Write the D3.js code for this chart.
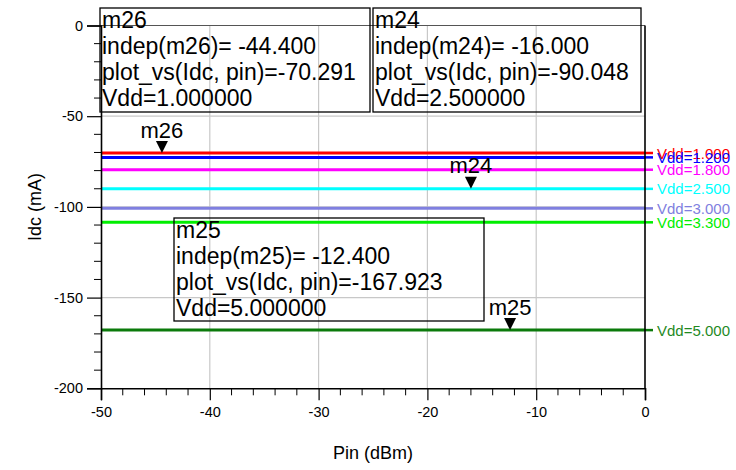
<!DOCTYPE html>
<html>
<head>
<meta charset="utf-8">
<script src="https://cdn.jsdelivr.net/npm/d3@7"></script>
<style>
  html, body { margin: 0; padding: 0; background: #fff; }
  svg { display: block; font-family: "Liberation Sans", Arial, sans-serif; }
</style>
</head>
<body>
<svg id="chart" width="736" height="470"></svg>
<script>
// Supply voltage sweep and the DC drain current of each trace (flat over Pin)
const vdd = [1.0, 1.2, 1.8, 2.5, 3.0, 3.3, 5.0];
const idc = [-70.291, -72.7, -79.5, -90.048, -100.8, -108.5, -167.923];
const traceColors = ["#ff0000", "#0000ff", "#ff00ff", "#00ffff", "#7f7fe0", "#00ee00", "#0b7a0b"];
const labelColors = ["#ff0000", "#0000ff", "#ff00ff", "#00ffff", "#7f7fe0", "#00ee00", "#1f8a1f"];

// Input power sweep
const pinSweep = [-50, 0];

// Axis ticks
const xTicks = [-50, -40, -30, -20, -10, 0];
const yTicks = [0, -50, -100, -150, -200];

// Markers
const markerNames = ["m26", "m24", "m25"];
const markerPin = [-44.4, -16.0, -12.4];
const markerIdc = [-70.291, -90.048, -167.923];
const markerVdd = [1.0, 2.5, 5.0];
const markerBoxes = [[100, 8, 270, 104], [373, 8, 268, 104], [174, 218, 310, 103]];

const svg = d3.select("#chart");
const margin = { left: 101, right: 91, top: 25.5, bottom: 81.7 };
const W = 736, H = 470;

const x = d3.scaleLinear().domain([-50, 0]).range([margin.left, W - margin.right]);
const y = d3.scaleLinear().domain([-200, 0]).range([H - margin.bottom, margin.top]);

// Grid
const grid = svg.append("g").attr("stroke", "#c8c8c8").attr("stroke-width", 1.2);
xTicks.filter(d => d > -50 && d < 0).forEach(d => {
  grid.append("line").attr("x1", x(d)).attr("x2", x(d))
    .attr("y1", y(0)).attr("y2", y(-200));
});
yTicks.filter(d => d > -200).forEach(d => {
  grid.append("line").attr("x1", x(-50)).attr("x2", x(0))
    .attr("y1", y(d)).attr("y2", y(d))
    .attr("stroke", d === 0 ? "#555" : "#c8c8c8");
});

// Traces
const line = d3.line().x(d => x(d[0])).y(d => y(d[1]));
vdd.forEach((v, i) => {
  const pts = pinSweep.map(p => [p, idc[i]]);
  svg.append("path").attr("d", line(pts)).attr("fill", "none")
    .attr("stroke", traceColors[i]).attr("stroke-width", 3);
});

// Trace labels at the right edge
vdd.forEach((v, i) => {
  svg.append("line").attr("x1", x(0)).attr("x2", x(0) + 8)
    .attr("y1", y(idc[i])).attr("y2", y(idc[i]))
    .attr("stroke", traceColors[i]).attr("stroke-width", 2.5);
  svg.append("text").attr("x", x(0) + 12).attr("y", y(idc[i]) + 5.5)
    .attr("font-size", 15).attr("fill", labelColors[i])
    .text("Vdd=" + v.toFixed(3));
});

// Axes
const xAxis = d3.axisBottom(x).tickValues(xTicks).tickSize(12).tickPadding(6);
const gx = svg.append("g").attr("transform", `translate(0,${y(-200)})`).call(xAxis);
const xMinor = d3.range(-48, 0, 2).filter(d => d % 10 !== 0);
gx.selectAll(".minor").data(xMinor).enter().append("line")
  .attr("x1", d => x(d)).attr("x2", d => x(d)).attr("y1", 0).attr("y2", 7)
  .attr("stroke", "#000");

const yAxis = d3.axisLeft(y).tickValues(yTicks).tickSize(14).tickPadding(4);
const gy = svg.append("g").attr("transform", `translate(${x(-50)},0)`).call(yAxis);
const yMinor = d3.range(-190, 0, 10).filter(d => d % 50 !== 0);
gy.selectAll(".minor").data(yMinor).enter().append("line")
  .attr("x1", -7).attr("x2", 0).attr("y1", d => y(d)).attr("y2", d => y(d))
  .attr("stroke", "#000");

[gx, gy].forEach(g => {
  g.select(".domain").attr("stroke", "#000").attr("stroke-width", 1.6);
  g.selectAll(".tick line").attr("stroke", "#000").attr("stroke-width", 1.2);
  g.selectAll(".tick text").attr("font-size", 14.5).attr("fill", "#000")
    .attr("font-family", "Liberation Sans, Arial, sans-serif");
});
gx.selectAll(".tick text").text(d => d === 0 ? "0" : d3.format("d")(d).replace("−", "-"));
gy.selectAll(".tick text").text(d => d === 0 ? "0" : d3.format("d")(d).replace("−", "-"));

// Right border of the plot frame
svg.append("line").attr("x1", x(0)).attr("x2", x(0))
  .attr("y1", y(0)).attr("y2", y(-200)).attr("stroke", "#000").attr("stroke-width", 1.6);

// Axis titles
svg.append("text").attr("x", (x(-50) + x(0)) / 2).attr("y", 459)
  .attr("text-anchor", "middle").attr("font-size", 18).text("Pin (dBm)");
svg.append("text").attr("transform", `translate(41,${(y(0) + y(-200)) / 2}) rotate(-90)`)
  .attr("text-anchor", "middle").attr("font-size", 18).text("Idc (mA)");

// Marker triangles and names
markerNames.forEach((m, i) => {
  const mx = x(markerPin[i]), my = y(markerIdc[i]);
  svg.append("path")
    .attr("d", `M${mx - 6},${my - 12}L${mx + 6},${my - 12}L${mx},${my}Z`)
    .attr("fill", "#000");
  svg.append("text").attr("x", mx).attr("y", my - 15.5)
    .attr("text-anchor", "middle").attr("font-size", 22).text(m);
});

// Marker readout boxes
markerNames.forEach((m, i) => {
  const [bx, by, bw, bh] = markerBoxes[i];
  svg.append("rect").attr("x", bx).attr("y", by).attr("width", bw).attr("height", bh)
    .attr("fill", "none").attr("stroke", "#000").attr("stroke-width", 1.3);
  const lines = [
    m,
    `indep(${m})= ${markerPin[i].toFixed(3)}`,
    `plot_vs(Idc, pin)=${markerIdc[i].toFixed(3)}`,
    `Vdd=${markerVdd[i].toFixed(6)}`
  ];
  lines.forEach((t, k) => {
    svg.append("text").attr("x", bx + 2).attr("y", by + 19.5 + 26 * k)
      .attr("font-size", 23).attr("fill", "#000").text(t);
  });
});
</script>
</body>
</html>
